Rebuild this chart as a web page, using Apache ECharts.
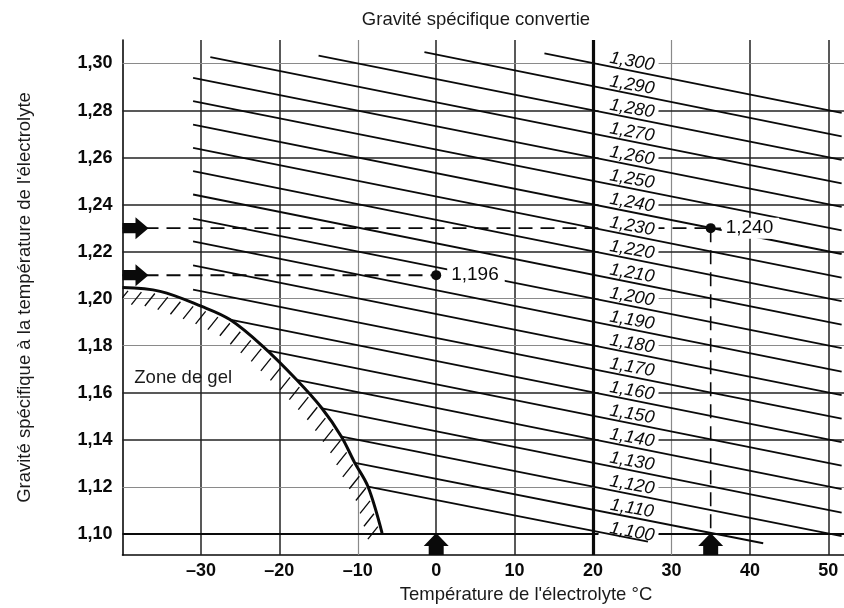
<!DOCTYPE html>
<html><head><meta charset="utf-8">
<script src="https://cdn.jsdelivr.net/npm/echarts@6/dist/echarts.min.js"></script>
<style>html,body{margin:0;padding:0;background:#fff}#c{width:844px;height:608px}</style>
</head><body><div id="c"></div>
<script>
// ---- data ----
const xTicks = [-30, -20, -10, 0, 10, 20, 30, 40, 50];
const yTicks = [1.10, 1.12, 1.14, 1.16, 1.18, 1.20, 1.22, 1.24, 1.26, 1.28, 1.30];
const xLightGrid = [-10, 30];
const xHeavyGrid = [20];
const yLightGrid = [1.30, 1.20, 1.18, 1.12];
const yHeavyGrid = [1.10];

// converted specific gravity (value at 20 °C) of each oblique line
const convertedLabels = [1.100, 1.110, 1.120, 1.130, 1.140, 1.150, 1.160, 1.170, 1.180, 1.190, 1.200,
  1.210, 1.220, 1.230, 1.240, 1.250, 1.260, 1.270, 1.280, 1.290, 1.300];
const lineStartT = [-8.7, -10.5, -12.2, -14.7, -17.8, -21.4, -26.3, -31, -31, -31, -31,
  -31, -31, -31, -31, -31, -31, -28.8, -15, -1.5, 13.8];
const lineStartG = [1.1201, 1.1303, 1.1414, 1.1535, 1.1655, 1.1779, 1.1911, 1.2038, 1.2142, 1.2244, 1.2340,
  1.2443, 1.2542, 1.2641, 1.2740, 1.2840, 1.2939, 1.3027, 1.3034, 1.3048, 1.3043];
const lineEndT = [27.0, 41.7, 51.7, 51.7, 51.7, 51.7, 51.7, 51.7, 51.7, 51.7, 51.7,
  51.7, 51.7, 51.7, 51.7, 51.7, 51.7, 51.7, 51.7, 51.7, 51.7];
const lineEndG = [1.0967, 1.0960, 1.0990, 1.1090, 1.1190, 1.1290, 1.1390, 1.1490, 1.1590, 1.1690, 1.1790,
  1.1890, 1.1990, 1.2090, 1.2190, 1.2290, 1.2390, 1.2490, 1.2590, 1.2690, 1.2790];

// freezing limit curve
const freezeT = [-40, -35.2, -29.9, -26.3, -22.1, -17.8, -14.6, -12.1, -10.4, -8.7, -6.9];
const freezeG = [1.2047, 1.2031, 1.1967, 1.1911, 1.1797, 1.1655, 1.1535, 1.1414, 1.1303, 1.1201, 1.1003];

// worked examples
const sampleT = [0, 35];
const sampleG = [1.21, 1.23];
const sampleLabels = ['1,196', '1,240'];

const X_MIN = -40, X_MAX = 52, Y_MIN = 1.091, Y_MAX = 1.310;

// ---- chart ----
const FONT = 'Liberation Sans, Arial, sans-serif';
const INK = '#0a0a0a';
const fmtComma = (v, d) => v.toFixed(d).replace('.', ',');

function gridStyle(isLight, isHeavy) {
  if (isHeavy) return { color: INK, width: 3.2, type: 'solid', opacity: 1 };
  if (isLight) return { color: '#8a8a8a', width: 1.2, type: 'solid', opacity: 1 };
  return { color: '#222', width: 1.5, type: 'solid', opacity: 1 };
}
const gridMarks = [];
xTicks.forEach(v => gridMarks.push({ xAxis: v, lineStyle: gridStyle(xLightGrid.includes(v), xHeavyGrid.includes(v)) }));
yTicks.forEach(v => {
  const s = gridStyle(yLightGrid.includes(v), false);
  if (yHeavyGrid.includes(v)) { s.width = 2.2; s.color = INK; }
  gridMarks.push({ yAxis: v, lineStyle: s });
});

const series = [];
series.push({
  type: 'line', data: [], z: 1, silent: true,
  markLine: { z: 1, silent: true, symbol: ['none', 'none'], label: { show: false }, animation: false, data: gridMarks }
});

// dashed guide lines (below the line labels)
const dashStyle = { color: INK, width: 1.6, type: [14, 8], opacity: 1 };
series.push({ type: 'line', z: 1.5, silent: true, symbol: 'none', lineStyle: dashStyle,
  data: [[X_MIN, sampleG[1]], [sampleT[1], sampleG[1]]] });
series.push({ type: 'line', z: 1.5, silent: true, symbol: 'none', lineStyle: Object.assign({}, dashStyle, { width: 2 }),
  data: [[X_MIN, sampleG[0]], [sampleT[0], sampleG[0]]] });
series.push({ type: 'line', z: 4, silent: true, symbol: 'none', lineStyle: dashStyle,
  data: [[sampleT[1], sampleG[1]], [sampleT[1], 1.10]] });
series.push({ type: 'line', z: 4, silent: true, symbol: 'none', lineStyle: { color: INK, width: 1.5, opacity: 1 },
  data: [[sampleT[1], sampleG[1]], [sampleT[1] + 1.3, sampleG[1]]] });

// labels of the oblique lines
series.push({
  type: 'scatter', z: 2, silent: true, symbol: 'circle', symbolSize: 0.1,
  itemStyle: { color: 'rgba(0,0,0,0)', opacity: 1 },
  data: convertedLabels.map(g => [20, g]),
  label: {
    show: true, position: 'inside', offset: [35, -8.5], rotate: -10,
    formatter: p => fmtComma(p.value[1], 3),
    fontFamily: FONT, fontStyle: 'italic', fontSize: 18, color: INK, opacity: 1,
    backgroundColor: '#fff', padding: [0, 4, 0, 10], lineHeight: 19
  }
});

// oblique lines
convertedLabels.forEach((g, i) => {
  series.push({
    type: 'line', z: 3, silent: true, symbol: 'none',
    lineStyle: { color: INK, width: 1.8, opacity: 1 },
    data: [[lineStartT[i], lineStartG[i]], [lineEndT[i], lineEndG[i]]]
  });
});

// freezing curve
series.push({
  type: 'line', z: 4, silent: true, symbol: 'none', smooth: 0.35,
  lineStyle: { color: INK, width: 3, opacity: 1 },
  data: freezeT.map((t, i) => [t, freezeG[i]])
});
// hatching of the frozen zone
series.push({
  type: 'custom', z: 4, silent: true, clip: true,
  data: freezeT.map((t, i) => [t, freezeG[i]]),
  renderItem: function (params, api) {
    if (params.dataIndex !== 0) return null;
    const pts = freezeT.map((t, i) => api.coord([t, freezeG[i]]));
    const children = [];
    let acc = 7;
    for (let i = 0; i < pts.length - 1; i++) {
      const x0 = pts[i][0], y0 = pts[i][1], x1 = pts[i + 1][0], y1 = pts[i + 1][1];
      const len = Math.hypot(x1 - x0, y1 - y0);
      let d = acc;
      while (d <= len) {
        const x = x0 + (x1 - x0) * d / len, y = y0 + (y1 - y0) * d / len;
        children.push({ type: 'line', shape: { x1: x - 1.5, y1: y + 2.5, x2: x - 11.5, y2: y + 15 },
          style: { stroke: INK, lineWidth: 1.3 } });
        d += 13.5;
      }
      acc = d - len;
    }
    return { type: 'group', children: children };
  }
});

// example points
series.push({
  type: 'scatter', z: 6, silent: true, symbol: 'circle', symbolSize: 10,
  itemStyle: { color: INK, opacity: 1 },
  data: sampleT.map((t, i) => ({ value: [t, sampleG[i]], name: sampleLabels[i] })),
  label: {
    show: true, position: 'right', distance: 6, formatter: p => p.name,
    fontFamily: FONT, fontSize: 19, color: INK, opacity: 1,
    backgroundColor: '#fff', padding: [1, 6, 1, 4]
  }
});

// arrows
const arrowRight = 'path://M0,6.5 L13,6.5 L13,0 L26,12 L13,24 L13,17.5 L0,17.5 Z';
const arrowUp = 'path://M5,22 L5,13 L0,13 L12.5,0 L25,13 L20,13 L20,22 Z';
series.push({
  type: 'scatter', z: 6, silent: true, clip: false, symbol: arrowRight, symbolSize: [26, 22],
  symbolOffset: [13, 0], itemStyle: { color: INK, opacity: 1 },
  data: sampleG.map(g => [X_MIN, g])
});
series.push({
  type: 'scatter', z: 6, silent: true, clip: false, symbol: arrowUp, symbolSize: [25, 22],
  symbolOffset: [0, -11], itemStyle: { color: INK, opacity: 1 },
  data: sampleT.map(t => [t, Y_MIN])
});

// "Zone de gel"
series.push({
  type: 'scatter', z: 6, silent: true, symbol: 'circle', symbolSize: 0.1,
  itemStyle: { color: 'rgba(0,0,0,0)', opacity: 1 },
  data: [{ value: [-38.5, 1.1664], name: 'Zone de gel' }],
  label: { show: true, position: 'right', distance: 0, formatter: p => p.name,
    fontFamily: FONT, fontSize: 18.5, color: '#1a1a1a', opacity: 1 }
});

const chart = echarts.init(document.getElementById('c'), null, { renderer: 'canvas' });
chart.setOption({
  animation: false,
  backgroundColor: '#fff',
  grid: { left: 122.5, right: 0, top: 40, bottom: 53, containLabel: false, outerBoundsMode: 'none' },
  xAxis: {
    type: 'value', min: X_MIN, max: X_MAX, interval: 10,
    axisLine: { show: true, lineStyle: { color: INK, width: 1.6, opacity: 1 } },
    axisTick: { show: false },
    splitLine: { show: false },
    axisLabel: {
      margin: 7, color: INK, fontFamily: FONT, fontWeight: 'bold', fontSize: 18,
      showMinLabel: true, showMaxLabel: true,
      formatter: v => xTicks.includes(v) ? String(v).replace('-', '\u2013') : ''
    }
  },
  yAxis: {
    type: 'value', min: Y_MIN, max: Y_MAX,
    name: 'Gravité spécifique à la température de l\'électrolyte',
    nameLocation: 'middle', nameRotate: 90, nameGap: 88,
    nameTextStyle: { fontFamily: FONT, fontSize: 18.5, color: '#1a1a1a' },
    axisLine: { show: true, onZero: false, lineStyle: { color: INK, width: 1.6, opacity: 1 } },
    axisTick: { show: false },
    splitLine: { show: false },
    axisLabel: {
      customValues: yTicks, margin: 10, color: INK, fontFamily: FONT, fontWeight: 'bold', fontSize: 18,
      formatter: v => fmtComma(v, 2)
    }
  },
  graphic: [
    { type: 'text', x: 476, y: 20, silent: true,
      style: { text: 'Gravité spécifique convertie', textAlign: 'center', textVerticalAlign: 'middle',
        fontFamily: FONT, fontSize: 18.5, fill: '#1a1a1a' } },
    { type: 'text', x: 526, y: 595, silent: true,
      style: { text: 'Température de l\'électrolyte °C', textAlign: 'center', textVerticalAlign: 'middle',
        fontFamily: FONT, fontSize: 18.5, fill: '#1a1a1a' } }
  ],
  series: series
});
</script>
</body></html>
